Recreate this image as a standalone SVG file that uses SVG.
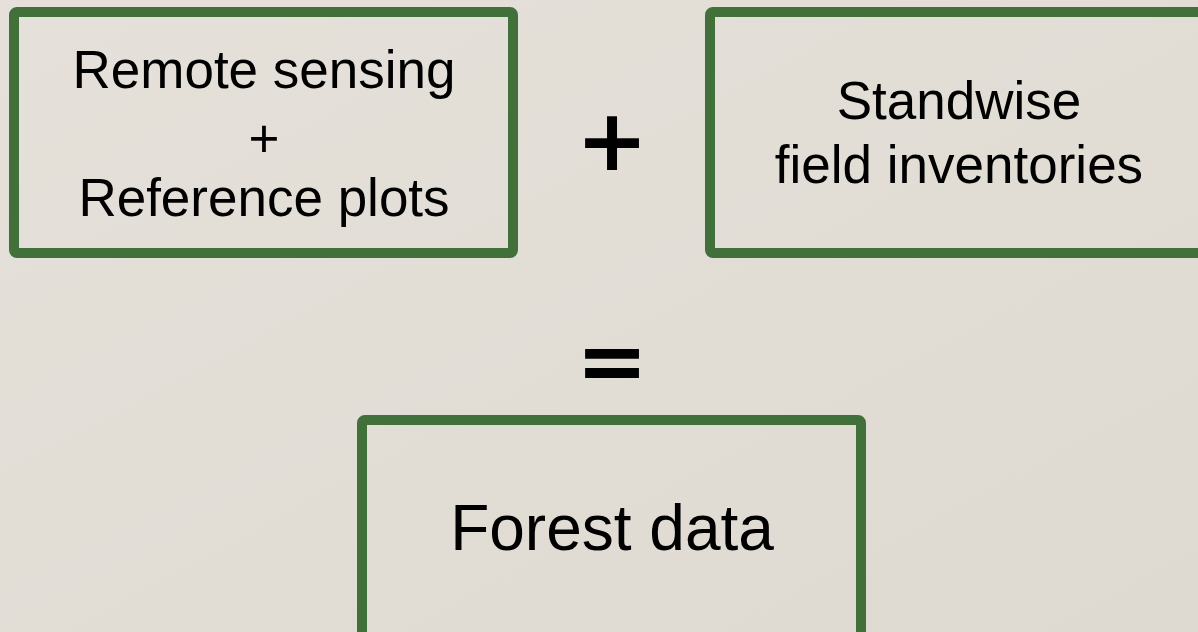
<svg xmlns="http://www.w3.org/2000/svg" width="1198" height="632" viewBox="0 0 1198 632">
  <style>
    .box { fill: none; stroke: #41703a; stroke-width: 10; }
    .lbl { font-family: "Liberation Sans", Arial, sans-serif; fill: #000; text-anchor: middle; }
    .op { font-family: "DejaVu Sans", sans-serif; font-weight: bold; fill: #000; text-anchor: middle; }
  </style>
  <defs>
    <linearGradient id="bg" x1="0" y1="0" x2="1" y2="1">
      <stop offset="0" stop-color="#e5e1da"/>
      <stop offset="0.6" stop-color="#e1ddd5"/>
      <stop offset="1" stop-color="#dedad2"/>
    </linearGradient>
  </defs>
  <rect width="1198" height="632" fill="url(#bg)"/>

  <g id="remote-sensing">
    <rect class="box" x="14" y="12" width="499" height="241" rx="3"/>
    <text class="lbl" font-size="53" x="264" y="88">Remote sensing</text>
    <text class="lbl" font-size="53" x="264" y="157">+</text>
    <text class="lbl" font-size="53" x="264" y="216">Reference plots</text>
  </g>

  <g id="field-inventories">
    <rect class="box" x="710" y="12" width="520" height="241" rx="3"/>
    <text class="lbl" font-size="53" x="959" y="119">Standwise</text>
    <text class="lbl" font-size="53" x="959" y="183">field inventories</text>
  </g>

  <g id="forest-data">
    <rect class="box" x="362" y="420" width="499" height="240" rx="3"/>
    <text class="lbl" font-size="64" x="612" y="550">Forest data</text>
  </g>

  <g id="connectors">
    <text class="op" font-size="86" x="612" y="170">+</text>
    <text class="op" font-size="86" x="612" y="390">=</text>
  </g>
</svg>
